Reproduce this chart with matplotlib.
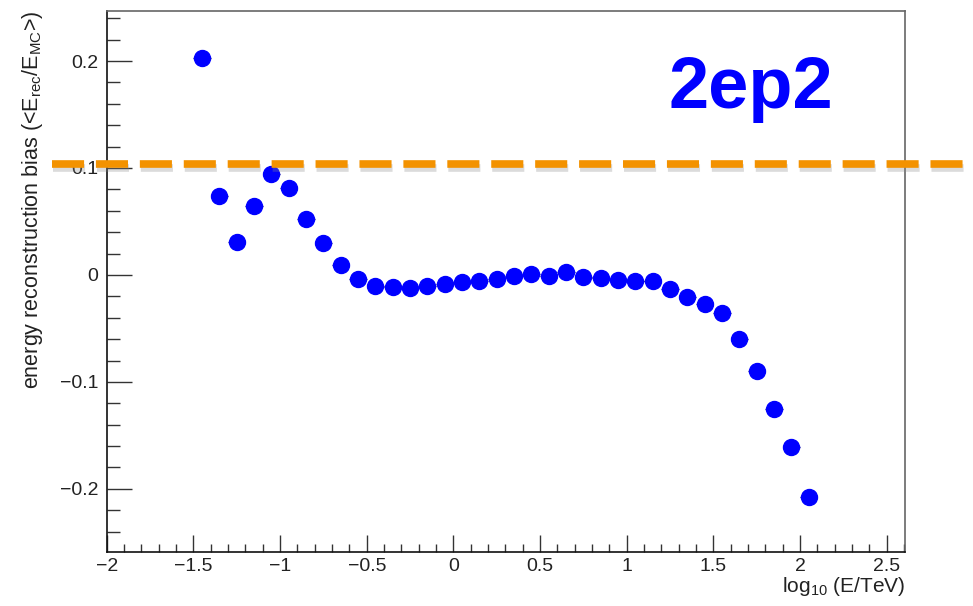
import numpy as np
import matplotlib
matplotlib.use("Agg")
import matplotlib.pyplot as plt
import matplotlib.patheffects as pe
from matplotlib.transforms import blended_transform_factory
from matplotlib.ticker import MultipleLocator

plt.rcParams['font.family'] = ['Liberation Sans', 'DejaVu Sans']
plt.rcParams['mathtext.fontset'] = 'custom'
plt.rcParams['mathtext.rm'] = 'Liberation Sans'
plt.rcParams['mathtext.it'] = 'Liberation Sans:italic'

# bin centres in log10(E/TeV) and the measured bias
log_e = [-1.45, -1.35, -1.25, -1.15, -1.05, -0.95, -0.85, -0.75, -0.65, -0.55,
         -0.45, -0.35, -0.25, -0.15, -0.05, 0.05, 0.15, 0.25, 0.35, 0.45,
         0.55, 0.65, 0.75, 0.85, 0.95, 1.05, 1.15, 1.25, 1.35, 1.45,
         1.55, 1.65, 1.75, 1.85, 1.95, 2.05]
bias = [0.203, 0.074, 0.031, 0.064, 0.094, 0.081, 0.052, 0.030, 0.009, -0.004,
        -0.010, -0.011, -0.012, -0.010, -0.0085, -0.0068, -0.0053, -0.0037, -0.0006, 0.0006,
        -0.001, 0.0025, -0.002, -0.0025, -0.0044, -0.006, -0.006, -0.0134, -0.021, -0.027,
        -0.036, -0.0595, -0.090, -0.125, -0.1605, -0.2075]
bin_half_width = 0.05
threshold = 0.1035
label_text = "2ep2"

fig = plt.figure(figsize=(9.73, 6.06), dpi=100)
ax = fig.add_axes([0.1097, 0.0891, 0.9301 - 0.1097, 0.9823 - 0.0891])

ax.errorbar(log_e, bias, xerr=bin_half_width, fmt='o', color='#0000ff',
            markersize=11.5, ecolor='#000080', elinewidth=1.0, capsize=0, zorder=3)

ax.set_xlim(-2, 2.605)
ax.set_ylim(-0.259, 0.247)

ax.xaxis.set_major_locator(MultipleLocator(0.5))
ax.xaxis.set_minor_locator(MultipleLocator(0.1))
ax.yaxis.set_major_locator(MultipleLocator(0.1))
ax.yaxis.set_minor_locator(MultipleLocator(0.02))
ax.xaxis.set_major_formatter(plt.FuncFormatter(lambda v, p: f"{v:g}".replace('-', '\u2212')))
ax.yaxis.set_major_formatter(plt.FuncFormatter(lambda v, p: f"{v:.1f}".replace('-', '\u2212') if abs(v) > 1e-9 else "0"))

ax.tick_params(axis='both', which='both', direction='in', top=False, right=False,
               labelsize=14, labelcolor='#222222', color='#333333')
ax.tick_params(axis='y', which='major', length=18, width=1, pad=6)
ax.tick_params(axis='y', which='minor', length=9, width=1)
ax.tick_params(axis='x', which='major', length=12, width=1, pad=4)
ax.tick_params(axis='x', which='minor', length=6, width=1)

for side in ['left', 'bottom']:
    ax.spines[side].set_color('#111111')
    ax.spines[side].set_linewidth(1.2)
for side in ['top', 'right']:
    ax.spines[side].set_color('#666666')
    ax.spines[side].set_linewidth(1.2)

ax.set_xlabel(r'log$_{\mathregular{10}}$ (E/TeV)', fontsize=15, loc='right',
              color='#222222', labelpad=0)
ax.set_ylabel(r'energy reconstruction bias (<E$_{\mathregular{rec}}$/E$_{\mathregular{MC}}$>)',
              fontsize=15.5, loc='top', color='#222222', labelpad=11)

# dashed threshold line drawn across the figure width
trans = blended_transform_factory(fig.transFigure, ax.transData)
line, = ax.plot([0.053, 1.0], [threshold, threshold], transform=trans, clip_on=False,
                color='#f39200', linewidth=5.5, dashes=(4.2, 1.55), solid_capstyle='butt',
                dash_capstyle='butt', zorder=5)
line.set_path_effects([pe.SimpleLineShadow(offset=(1, -2.5), shadow_color='#888888', alpha=0.3),
                       pe.Normal()])

fig.text(0.7717, 0.8218, label_text, color='#0000ff', fontsize=52, fontweight='bold',
         ha='center', va='baseline')

fig.savefig('out.png', dpi=100)
